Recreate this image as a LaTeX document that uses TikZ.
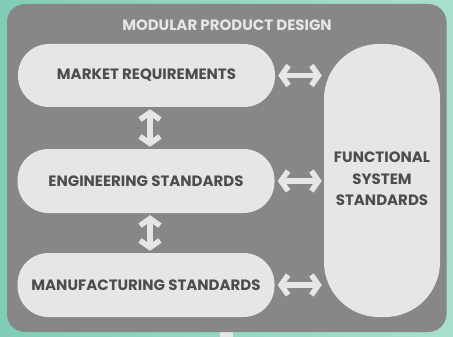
\documentclass[tikz,border=0pt]{standalone}
\usepackage{fontspec}
\setmainfont{Poppins}[UprightFont=* Bold, BoldFont=* Bold]
\usetikzlibrary{arrows.meta}
\definecolor{bgL}{HTML}{82CDB8}
\definecolor{bgR}{HTML}{A8E0CF}
\definecolor{panel}{HTML}{878787}
\definecolor{boxfill}{HTML}{E6E6E6}
\definecolor{txt}{HTML}{4D4D4D}
\tikzset{
  pill/.style={fill=boxfill, draw=none, rounded corners=31pt, minimum width=257pt, minimum height=63pt,
    inner sep=0pt, text=txt, font=\fontsize{15}{18}\selectfont},
  dbl/.style={draw=boxfill, line width=5.5pt,
    {Straight Barb[length=7pt, width=20pt, line width=5.5pt]}-{Straight Barb[length=7pt, width=20pt, line width=5.5pt]}},
}
\begin{document}
\begin{tikzpicture}[x=1pt,y=-1pt]
\useasboundingbox (0,0) rectangle (453,337);
\shade[left color=bgL, right color=bgR] (0,0) rectangle (453,337);
\fill[boxfill] (220,330) rectangle (233,337);
\fill[panel, rounded corners=18pt] (7,4) rectangle (446.5,332);
\node[text=boxfill, font=\fontsize{15}{18}\selectfont] (title) at (227,25) {MODULAR PRODUCT DESIGN};
\node[pill] (mr) at (146.5,75.5) {MARKET REQUIREMENTS};
\node[pill, minimum height=64pt] (es) at (146,181) {ENGINEERING STANDARDS};
\node[pill, minimum height=64pt] (ms) at (146,285) {MANUFACTURING STANDARDS};
\node[pill, minimum width=116pt, minimum height=273pt, rounded corners=55pt, align=center,
  font=\fontsize{15}{21.5}\selectfont] (fs) at (382,180.5) {\raisebox{3pt}{FUNCTIONAL}\\\raisebox{3pt}{SYSTEM}\\\raisebox{3pt}{STANDARDS}};
\draw[dbl, shorten <=3pt, shorten >=2pt] (mr.east) -- (mr.east -| fs.west);
\draw[dbl, shorten <=3pt, shorten >=2pt] (es.east) -- (es.east -| fs.west);
\draw[dbl, shorten <=3pt, shorten >=2pt] (ms.east) -- (ms.east -| fs.west);
\draw[dbl, shorten <=2pt, shorten >=2pt] (mr.south -| 150,0) -- (es.north -| 150,0);
\draw[dbl, shorten <=2pt, shorten >=2pt] (es.south -| 150,0) -- (ms.north -| 150,0);
\end{tikzpicture}
\end{document}
